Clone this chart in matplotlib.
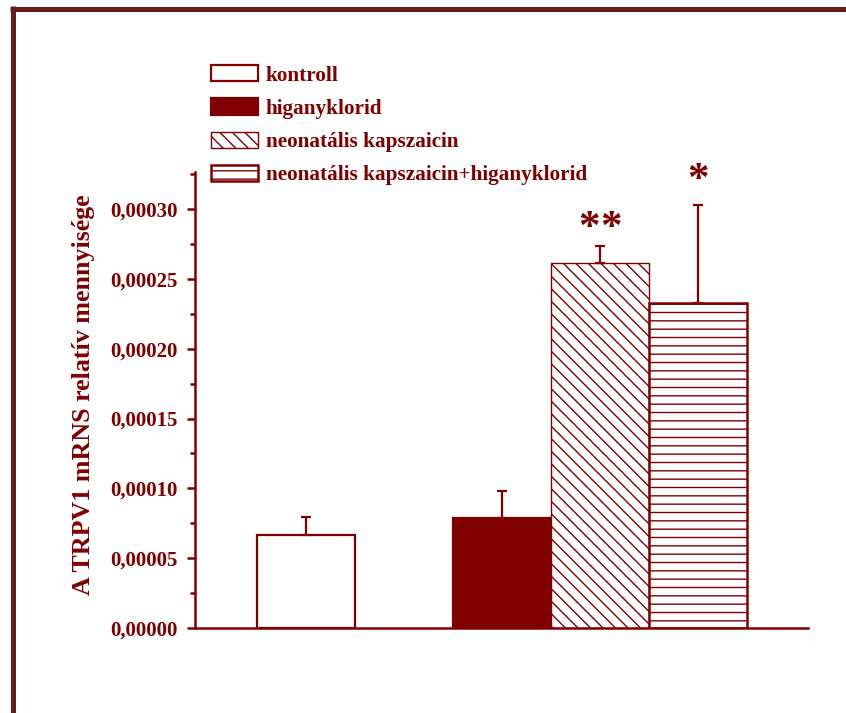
import matplotlib
matplotlib.use("Agg")
import matplotlib.pyplot as plt
from matplotlib.lines import Line2D
from matplotlib.ticker import FuncFormatter, MultipleLocator
from matplotlib.backend_bases import GraphicsContextBase

# sparser hatch spacing than the matplotlib default
_orig_hatch_path = GraphicsContextBase.get_hatch_path
def _hatch_path(self, density=4.0):
    return _orig_hatch_path(self, density)
GraphicsContextBase.get_hatch_path = _hatch_path

# data
groups = ["kontroll", "higanyklorid", "neonatális kapszaicin",
          "neonatális kapszaicin+higanyklorid"]
values = [6.66e-5, 7.87e-5, 2.613e-4, 2.327e-4]
errors = [1.30e-5, 1.94e-5, 1.22e-5, 7.00e-5]
stars = ["", "", "**", "*"]
ylabel = "A TRPV1 mRNS relatív mennyisége"

MAROON = "#800000"
BORDER = "#661c1c"

plt.rcParams["font.family"] = ["Liberation Serif", "DejaVu Serif"]
plt.rcParams["font.weight"] = "bold"
plt.rcParams["hatch.linewidth"] = 1.0
plt.rcParams["hatch.color"] = MAROON

fig = plt.figure(figsize=(8.46, 7.13), dpi=100)
ax = fig.add_axes([195 / 846, 1 - 628 / 713, (808 - 195) / 846, (628 - 172) / 713])

positions = [1.133, 3.133, 4.133, 5.133]
styles = [
    dict(facecolor="white", edgecolor=MAROON, hatch=None, linewidth=1.6),
    dict(facecolor=MAROON, edgecolor=MAROON, hatch=None, linewidth=1.6),
    dict(facecolor="white", edgecolor=MAROON, hatch="\\\\\\\\", linewidth=1.0),
    dict(facecolor="white", edgecolor=MAROON, hatch="---", linewidth=1.8),
]

handles = []
for x, v, e, st, lab in zip(positions, values, errors, styles, groups):
    b = ax.bar(x, v, width=1.0, label=lab, zorder=2, **st)
    handles.append(b)
    ax.errorbar(x, v, yerr=[[0], [e]], fmt="none", ecolor=MAROON,
                elinewidth=1.6, capsize=3.6, capthick=1.6, zorder=3)

# significance marks, one asterisk glyph at a time
star_gap = 22
for x, v, e, s, off in zip(positions, values, errors, stars, [0, 0, -2, 5]):
    n = len(s)
    for i in range(n):
        dx = (i - (n - 1) / 2) * star_gap
        ax.annotate("*", xy=(x, v + e), xytext=(dx, off), textcoords="offset pixels",
                    ha="center", va="bottom", fontsize=31, color=MAROON,
                    fontweight="bold")

ax.set_xlim(0, 6.255)
ax.set_ylim(0, 0.0003265)
ax.yaxis.set_major_locator(MultipleLocator(0.00005))
ax.yaxis.set_minor_locator(MultipleLocator(0.000025))
ax.yaxis.set_major_formatter(FuncFormatter(lambda v, p: f"{v:.5f}".replace(".", ",")))
ax.set_xticks([])

for side in ("top", "right"):
    ax.spines[side].set_visible(False)
for side in ("left", "bottom"):
    ax.spines[side].set_color(MAROON)
    ax.spines[side].set_linewidth(1.8)

ax.tick_params(axis="y", which="major", direction="out", length=6, width=1.8,
               color=MAROON, labelcolor=MAROON, labelsize=15, pad=6.5)
ax.tick_params(axis="y", which="minor", direction="out", length=3.6, width=1.8,
               color=MAROON)
for lbl in ax.get_yticklabels():
    lbl.set_fontweight("bold")

ax.set_ylabel(ylabel, fontsize=18.7, fontweight="bold", color=MAROON)
ax.yaxis.set_label_coords(-0.163, (628 - 395) / (628 - 172))

leg = fig.legend(handles=handles, labels=groups, loc="upper left",
                 bbox_to_anchor=(211 / 846, 1 - 65 / 713), frameon=False,
                 borderpad=0, borderaxespad=0,
                 handlelength=2.2, handleheight=0.8, handletextpad=0.38,
                 labelspacing=0.6, labelcolor=MAROON,
                 prop={"weight": "bold", "size": 15.3})

# decorative frame lines along the top and left edges
fig.add_artist(Line2D([10 / 846, 1.0], [1 - 8.5 / 713, 1 - 8.5 / 713],
                      transform=fig.transFigure, color=BORDER, linewidth=3.6,
                      solid_capstyle="butt"))
fig.add_artist(Line2D([12.5 / 846, 12.5 / 846], [1 - 6 / 713, 0.0],
                      transform=fig.transFigure, color=BORDER, linewidth=3.6,
                      solid_capstyle="butt"))

fig.savefig("out.png", dpi=100)
